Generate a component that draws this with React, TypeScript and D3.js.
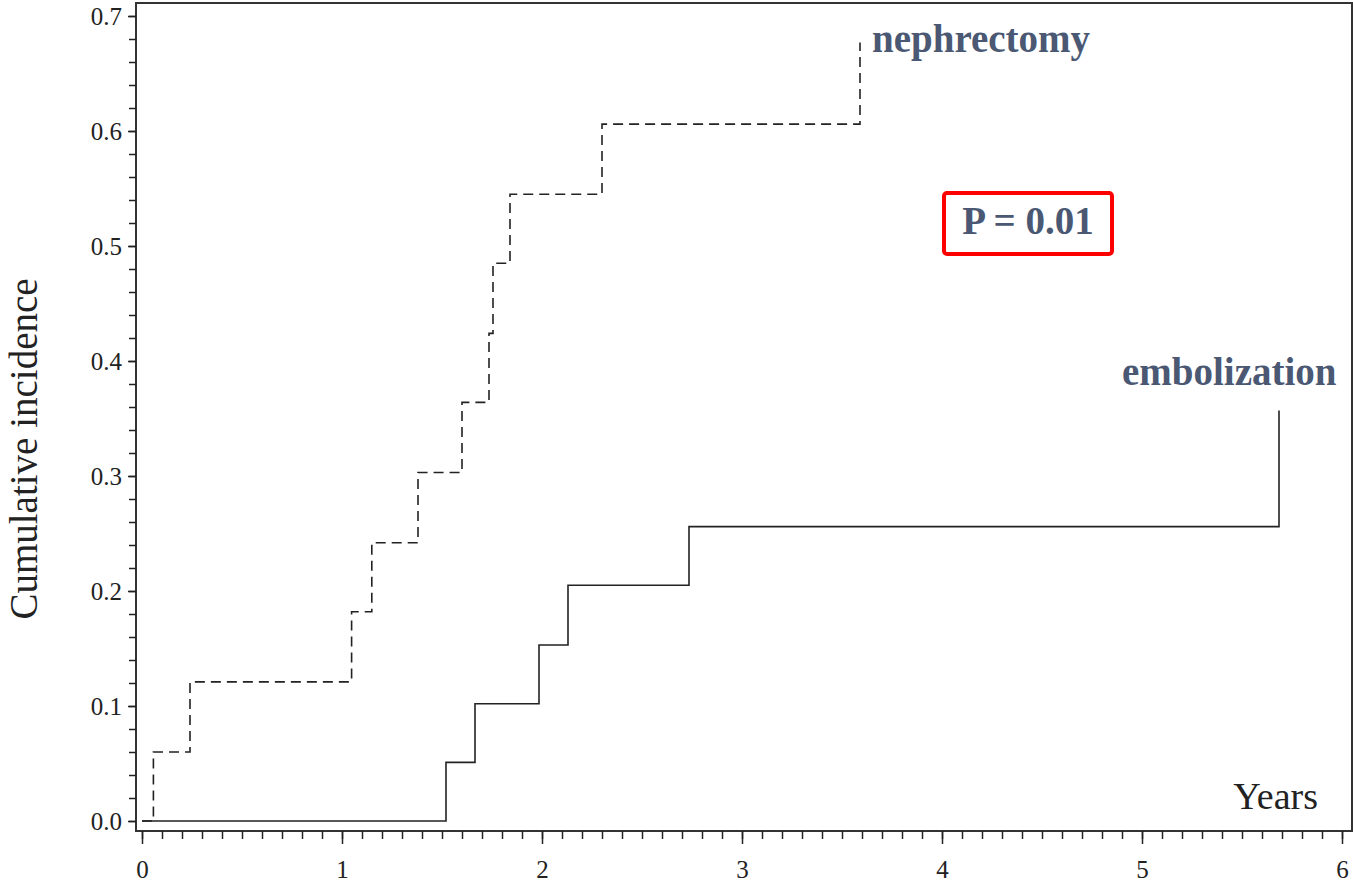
import React, { useEffect, useRef } from "react";
import * as d3 from "d3";

// cumulative incidence step data
const nephTimes = [0, 0.057, 0.24, 1.048, 1.149, 1.38, 1.6, 1.735, 1.755, 1.84, 2.3, 3.59];
const nephValues = [0, 0.06, 0.121, 0.182, 0.242, 0.303, 0.364, 0.424, 0.485, 0.545, 0.606, 0.677];

const embTimes = [0, 1.52, 1.665, 1.985, 2.13, 2.735, 5.685];
const embValues = [0, 0.051, 0.102, 0.153, 0.205, 0.256, 0.357];

const xMajor = [0, 1, 2, 3, 4, 5, 6];
const yMajor = [0, 0.1, 0.2, 0.3, 0.4, 0.5, 0.6, 0.7];

const labels = [
  { text: "nephrectomy", t: 3.65, v: 0.669 },
  { text: "embolization", t: 4.9, v: 0.379 },
];

const width = 1353;
const height = 884;

export default function App() {
  const ref = useRef<SVGSVGElement>(null);

  useEffect(() => {
    const svg = d3.select(ref.current);
    svg.selectAll("*").remove();

    const frame = { left: 136, top: 3, right: 1352, bottom: 831 };

    const x = d3.scaleLinear().domain([0, 6]).range([142, 1342]);
    const y = d3.scaleLinear().domain([0, 0.7]).range([821, 16]);

    const ink = "#222";
    const labelColor = "#4b5873";
    const font = "'Liberation Serif', 'Times New Roman', serif";

    // frame
    svg.append("rect")
      .attr("x", frame.left)
      .attr("y", frame.top)
      .attr("width", frame.right - frame.left)
      .attr("height", frame.bottom - frame.top)
      .attr("fill", "none")
      .attr("stroke", "#333")
      .attr("stroke-width", 2);

    // y axis, minor then major
    svg.append("g")
      .attr("transform", `translate(${frame.left},0)`)
      .call(d3.axisLeft(y).tickValues(d3.range(0, 0.701, 0.02)).tickSize(7).tickFormat(() => ""))
      .call(g => g.select(".domain").remove())
      .call(g => g.selectAll("line").attr("stroke", ink).attr("stroke-width", 1.5));

    svg.append("g")
      .attr("transform", `translate(${frame.left},0)`)
      .call(d3.axisLeft(y).tickValues(yMajor).tickSize(8).tickPadding(6).tickFormat(d3.format(".1f")))
      .call(g => g.select(".domain").remove())
      .call(g => g.selectAll("line").attr("stroke", ink).attr("stroke-width", 1.5))
      .call(g => g.selectAll("text")
        .attr("font-family", font)
        .attr("font-size", 25)
        .attr("fill", ink));

    // x axis, minor then major
    svg.append("g")
      .attr("transform", `translate(0,${frame.bottom})`)
      .call(d3.axisBottom(x).tickValues(d3.range(0, 6.001, 0.1)).tickSize(8).tickFormat(() => ""))
      .call(g => g.select(".domain").remove())
      .call(g => g.selectAll("line").attr("stroke", ink).attr("stroke-width", 1.5));

    svg.append("g")
      .attr("transform", `translate(0,${frame.bottom})`)
      .call(d3.axisBottom(x).tickValues(xMajor).tickSize(13).tickFormat(d3.format("d")))
      .call(g => g.select(".domain").remove())
      .call(g => g.selectAll("line").attr("stroke", ink).attr("stroke-width", 1.5))
      .call(g => g.selectAll("text")
        .attr("y", 47)
        .attr("dy", 0)
        .attr("font-family", font)
        .attr("font-size", 25)
        .attr("fill", ink));

    const line = d3.line<[number, number]>()
      .x(d => x(d[0]))
      .y(d => y(d[1]))
      .curve(d3.curveStepAfter);

    const neph = nephTimes.map((t, i) => [t, nephValues[i]] as [number, number]);
    const emb = embTimes.map((t, i) => [t, embValues[i]] as [number, number]);

    svg.append("path")
      .attr("d", line(neph))
      .attr("fill", "none")
      .attr("stroke", ink)
      .attr("stroke-width", 1.6)
      .attr("stroke-dasharray", "10 6");

    svg.append("path")
      .attr("d", line(emb))
      .attr("fill", "none")
      .attr("stroke", ink)
      .attr("stroke-width", 1.6);

    // curve labels
    svg.append("g")
      .selectAll("text")
      .data(labels)
      .join("text")
      .attr("x", d => x(d.t))
      .attr("y", d => y(d.v))
      .attr("font-family", font)
      .attr("font-weight", "bold")
      .attr("font-size", 39)
      .attr("fill", labelColor)
      .text(d => d.text);

    // p-value box
    svg.append("rect")
      .attr("x", 944)
      .attr("y", 193)
      .attr("width", 168)
      .attr("height", 61)
      .attr("rx", 3)
      .attr("fill", "none")
      .attr("stroke", "#f00")
      .attr("stroke-width", 4);

    svg.append("text")
      .attr("x", 1028)
      .attr("y", 234)
      .attr("text-anchor", "middle")
      .attr("font-family", font)
      .attr("font-weight", "bold")
      .attr("font-size", 39)
      .attr("fill", labelColor)
      .text("P = 0.01");

    // axis titles
    svg.append("text")
      .attr("x", 1318)
      .attr("y", 809)
      .attr("text-anchor", "end")
      .attr("font-family", font)
      .attr("font-size", 38)
      .attr("fill", ink)
      .text("Years");

    svg.append("text")
      .attr("transform", "translate(37,449) rotate(-90)")
      .attr("text-anchor", "middle")
      .attr("font-family", font)
      .attr("font-size", 39)
      .attr("fill", ink)
      .text("Cumulative incidence");
  }, []);

  return (
    <svg
      ref={ref}
      width={width}
      height={height}
      style={{ position: "absolute", left: 0, top: 0, background: "#fff" }}
    />
  );
}
